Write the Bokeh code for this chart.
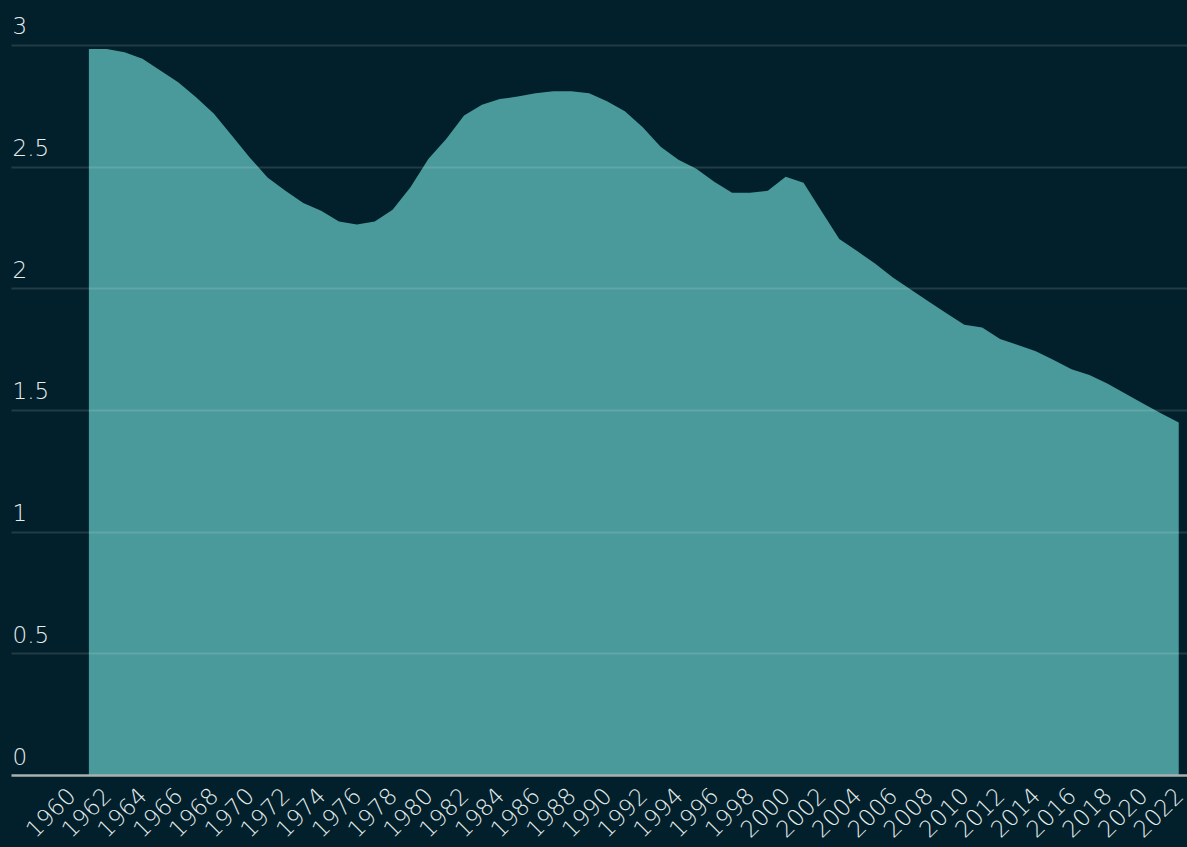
import math
from bokeh.plotting import figure
from bokeh.models import Range1d, FixedTicker, ColumnDataSource
from bokeh.core.properties import value
from bokeh.embed import file_html
from bokeh.resources import INLINE

# ---- data ----
years = list(range(1961, 2023))
rate = [2.986, 2.986, 2.972, 2.945, 2.897, 2.849, 2.787, 2.719, 2.630, 2.540,
        2.458, 2.403, 2.353, 2.321, 2.277, 2.264, 2.277, 2.325, 2.417, 2.534,
        2.616, 2.712, 2.756, 2.780, 2.790, 2.804, 2.812, 2.812, 2.804, 2.771,
        2.730, 2.664, 2.584, 2.530, 2.493, 2.440, 2.395, 2.395, 2.403, 2.461,
        2.436, 2.320, 2.205, 2.155, 2.104, 2.047, 1.997, 1.948, 1.900, 1.852,
        1.841, 1.794, 1.769, 1.743, 1.707, 1.670, 1.646, 1.611, 1.570, 1.529,
        1.489, 1.451]
tick_years = list(range(1960, 2023, 2))
y_ticks = [0, 0.5, 1, 1.5, 2, 2.5, 3]
y_labels = ["0", "0.5", "1", "1.5", "2", "2.5", "3"]

BG = "#02202b"
AREA = "#4a999b"
TXT = "#e6eded"
FONT = "'DejaVu Sans Light', 'DejaVu Sans'"

x0, x1 = 1956.67, 2022.49
p = figure(width=1187, height=847,
           x_range=Range1d(x0, x1), y_range=Range1d(0, 3.152),
           output_backend="svg", toolbar_location=None,
           y_axis_location=None,
           min_border_top=8, min_border_left=11, min_border_right=0,
           min_border_bottom=72,
           background_fill_color=BG, border_fill_color=BG,
           outline_line_color=None)
p.styles = {"background-color": BG}

src = ColumnDataSource(dict(x=years, y=rate))
p.varea(x="x", y1=0, y2="y", source=src, fill_color=AREA, fill_alpha=1.0)

p.xgrid.visible = False
p.ygrid.ticker = FixedTicker(ticks=y_ticks[1:])
p.ygrid.grid_line_color = "white"
p.ygrid.grid_line_alpha = 0.13
p.ygrid.grid_line_width = 2
p.ygrid.level = "annotation"

ax = p.xaxis[0]
ax.ticker = FixedTicker(ticks=tick_years)
ax.major_label_orientation = math.pi / 4
ax.major_label_text_font = FONT
ax.major_label_text_font_size = "23px"
ax.major_label_text_color = TXT
ax.axis_line_color = "#a8b0b1"
ax.axis_line_width = 2.5
ax.major_tick_line_color = None
ax.minor_tick_line_color = None
ax.major_label_standoff = 10

lab = ColumnDataSource(dict(x=[x0] * len(y_ticks), y=y_ticks, t=y_labels))
p.text(x="x", y="y", text="t", source=lab, text_font=value(FONT),
       text_font_size="23px", text_color=TXT, text_align="left",
       text_baseline="bottom", x_offset=1, y_offset=-11)

open("out.html", "w").write(file_html(p, INLINE))
